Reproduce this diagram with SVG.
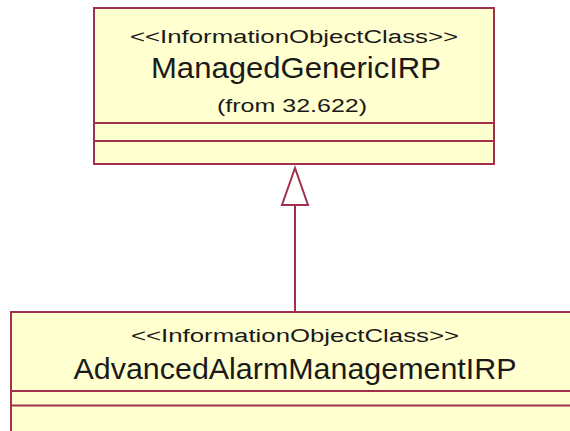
<svg xmlns="http://www.w3.org/2000/svg" width="570" height="431" viewBox="0 0 570 431">
<style>
.box{fill:#FFFFCF;stroke:#A0304C;stroke-width:2}
.sep{stroke:#A0304C;stroke-width:2}
.t{font-family:"Liberation Sans",Arial,sans-serif;fill:#1a1a1a;text-anchor:middle}
.st{font-size:18px}
.nm{font-size:30px}
.fr{font-size:19px}
.conn{stroke:#A0304C;stroke-width:2;fill:none}
.head{fill:#FFFFFF;stroke:#A0304C;stroke-width:2}
</style>
<rect width="570" height="431" fill="#FFFFFF"/>
<g id="ManagedGenericIRP">
<rect class="box" x="94" y="8" width="400" height="156"/>
<line class="sep" x1="94" y1="123" x2="494" y2="123"/>
<line class="sep" x1="94" y1="141" x2="494" y2="141"/>
<text class="t st" x="294" y="42.5" textLength="328" lengthAdjust="spacingAndGlyphs">&lt;&lt;InformationObjectClass&gt;&gt;</text>
<text class="t nm" x="296" y="77.5" textLength="290" lengthAdjust="spacingAndGlyphs">ManagedGenericIRP</text>
<text class="t fr" x="292" y="111.5" textLength="150" lengthAdjust="spacingAndGlyphs">(from 32.622)</text>
</g>
<g id="AdvancedAlarmManagementIRP">
<rect class="box" x="11" y="312" width="568" height="130"/>
<line class="sep" x1="11" y1="391" x2="570" y2="391"/>
<line class="sep" x1="11" y1="405.5" x2="570" y2="405.5"/>
<text class="t st" x="295" y="341.5" textLength="328" lengthAdjust="spacingAndGlyphs">&lt;&lt;InformationObjectClass&gt;&gt;</text>
<text class="t nm" x="295" y="379" textLength="443" lengthAdjust="spacingAndGlyphs">AdvancedAlarmManagementIRP</text>
</g>
<g id="connectors">
<line class="conn" x1="295" y1="205" x2="295" y2="312"/>
<polygon class="head" points="295,168 282,205 308,205"/>
</g>
</svg>
